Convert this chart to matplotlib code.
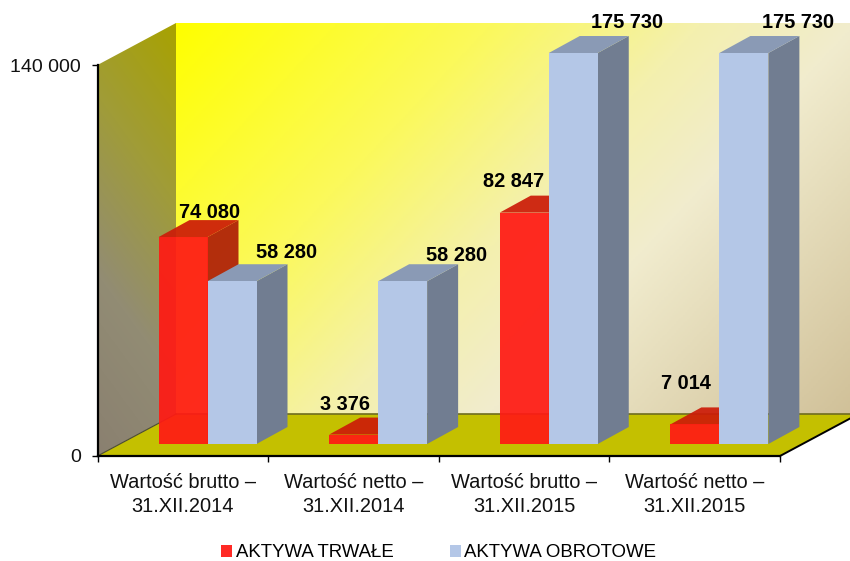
import matplotlib
matplotlib.use('Agg')
import matplotlib.pyplot as plt
import numpy as np
from matplotlib.colors import LinearSegmentedColormap
from matplotlib.patches import Polygon

plt.rcParams['font.family'] = ['Liberation Sans', 'DejaVu Sans']

# dane
categories = ['Wartość brutto –\n31.XII.2014', 'Wartość netto –\n31.XII.2014',
              'Wartość brutto –\n31.XII.2015', 'Wartość netto –\n31.XII.2015']
trwale = [74080, 3376, 82847, 7014]
obrotowe = [58280, 58280, 175730, 175730]
series_names = ['AKTYWA TRWAŁE', 'AKTYWA OBROTOWE']
y_ticks = [0, 140000]
y_tick_labels = ['0', '140 000']

y_max = y_ticks[-1]
n = len(categories)

# przesuniecia etykiet w pikselach wzgledem srodka przedniej gory slupka
offs_trwale = [(27, 25), (-9, 30), (-11, 31), (-9, 41)]
offs_obrotowe = [(55, 29), (54, 26), (54, 31), (54, 31)]

fig = plt.figure(figsize=(8.5, 5.61), dpi=100)
ax = fig.add_axes([97.5 / 850, 1 - 456 / 561, 682.5 / 850, 391 / 561])
ax.set_xlim(0, n)
ax.set_ylim(0, y_max)
ax.patch.set_visible(False)

ux = n / 682.5       # jeden piksel w jednostkach osi x
uy = y_max / 391     # jeden piksel w jednostkach osi y
wall_dx, wall_dy = 78.5 * ux, 42 * uy
bar_dx, bar_dy = 31 * ux, 17 * uy
start_dx, start_dy = 61 * ux, 12 * uy
bar_w = 49 * ux

# tylna sciana z gradientem
gx, gy = np.meshgrid(np.linspace(0, 1, 300), np.linspace(0, 1, 300))
back_cmap = LinearSegmentedColormap.from_list('back', [(0, '#ffff00'), (0.3, '#fbf95c'), (0.5, '#f4f0ae'),
                                                       (0.65, '#f1ecce'), (1, '#d0c098')])
back = Polygon([(wall_dx, wall_dy), (n + wall_dx, wall_dy), (n + wall_dx, y_max + wall_dy), (wall_dx, y_max + wall_dy)],
               transform=ax.transData)
im = ax.imshow(0.65 * gx + 0.35 * gy, cmap=back_cmap, vmin=0, vmax=1, aspect='auto', zorder=0, origin='upper',
               extent=(wall_dx, n + wall_dx, wall_dy, y_max + wall_dy))
im.set_clip_box(fig.bbox)
im.set_clip_path(back)

# lewa sciana
side_cmap = LinearSegmentedColormap.from_list('side', ['#a8a200', '#a09c38', '#928c74', '#8a8070'])
side = Polygon([(0, 0), (wall_dx, wall_dy), (wall_dx, y_max + wall_dy), (0, y_max)], transform=ax.transData)
im2 = ax.imshow(0.8 * gy + 0.2 * (1 - gx), cmap=side_cmap, vmin=0, vmax=1, aspect='auto', zorder=0, origin='upper',
                extent=(0, wall_dx, 0, y_max + wall_dy))
im2.set_clip_box(fig.bbox)
im2.set_clip_path(side)

ax.set_xlim(0, n)
ax.set_ylim(0, y_max)

# podloga
ax.fill([0, n, n + wall_dx, wall_dx], [0, 0, wall_dy, wall_dy], color='#c4c000', lw=0, zorder=1, clip_on=False)
ax.plot([wall_dx, n + wall_dx], [wall_dy, wall_dy], color='#6f6c20', lw=1.2, zorder=1.5, clip_on=False)
ax.plot([0, wall_dx], [0, wall_dy], color='#4a4a30', lw=0.8, zorder=1.5, clip_on=False)
ax.plot([n, n + wall_dx], [0, wall_dy], color='black', lw=1.4, zorder=1.5, clip_on=False)


def draw_series(xs, values, front, top, right, label, z, alpha):
    heights = np.minimum(values, y_max)
    bars = ax.bar(xs, heights, bar_w, bottom=start_dy, align='edge', color=front, alpha=alpha, lw=0,
                  label=label, zorder=z + 0.2, clip_on=False)
    for x, h in zip(xs, heights):
        t = start_dy + h
        ax.fill([x + bar_w, x + bar_w + bar_dx, x + bar_w + bar_dx, x + bar_w],
                [start_dy, start_dy + bar_dy, t + bar_dy, t], color=right, alpha=alpha, lw=0, zorder=z, clip_on=False)
        ax.fill([x, x + bar_w, x + bar_w + bar_dx, x + bar_dx],
                [t, t, t + bar_dy, t + bar_dy], color=top, alpha=alpha, lw=0, zorder=z + 0.1, clip_on=False)
    return bars, heights


x_red = np.arange(n) + start_dx
x_blue = x_red + bar_w
bars1, h1 = draw_series(x_red, trwale, '#ff1a14', '#cc1c08', '#ae1e08', series_names[0], 3, 0.93)
bars2, h2 = draw_series(x_blue, obrotowe, '#b4c7e7', '#8a9ab5', '#717d91', series_names[1], 4, 1)


def fmt(v):
    return f'{v:,}'.replace(',', ' ')


for xs, hs, vals, offs in [(x_red, h1, trwale, offs_trwale), (x_blue, h2, obrotowe, offs_obrotowe)]:
    for x, h, v, o in zip(xs, hs, vals, offs):
        ax.annotate(fmt(v), xy=(x + bar_w / 2, start_dy + h), xytext=(o[0] * 0.72, o[1] * 0.72),
                    textcoords='offset points', ha='center', va='center', fontsize=14.4, fontweight='bold',
                    color='black', zorder=10, annotation_clip=False)

# osie
ax.spines['top'].set_visible(False)
ax.spines['right'].set_visible(False)
ax.spines['left'].set_linewidth(1.6)
ax.spines['bottom'].set_linewidth(1.6)
ax.set_yticks(y_ticks)
ax.set_yticklabels(y_tick_labels, fontsize=14, color='#111111')
ax.tick_params(axis='y', length=4, width=1, pad=8)
ax.set_xticks(np.arange(n + 1))
ax.set_xticklabels([])
ax.tick_params(axis='x', which='major', length=4, width=1)
ax.set_xticks(np.arange(n) + 0.5, minor=True)
ax.set_xticklabels(categories, minor=True, fontsize=14.4, color='#111111', linespacing=1.38)
ax.tick_params(axis='x', which='minor', length=0, pad=12)

leg = ax.legend(handles=[bars1, bars2], ncol=2, frameon=False, fontsize=13.4, handlelength=0.6, handleheight=0.6,
                handletextpad=0.2, columnspacing=3.0, loc='center', bbox_to_anchor=(0.5, -0.248))

fig.savefig('out.png', dpi=100)
